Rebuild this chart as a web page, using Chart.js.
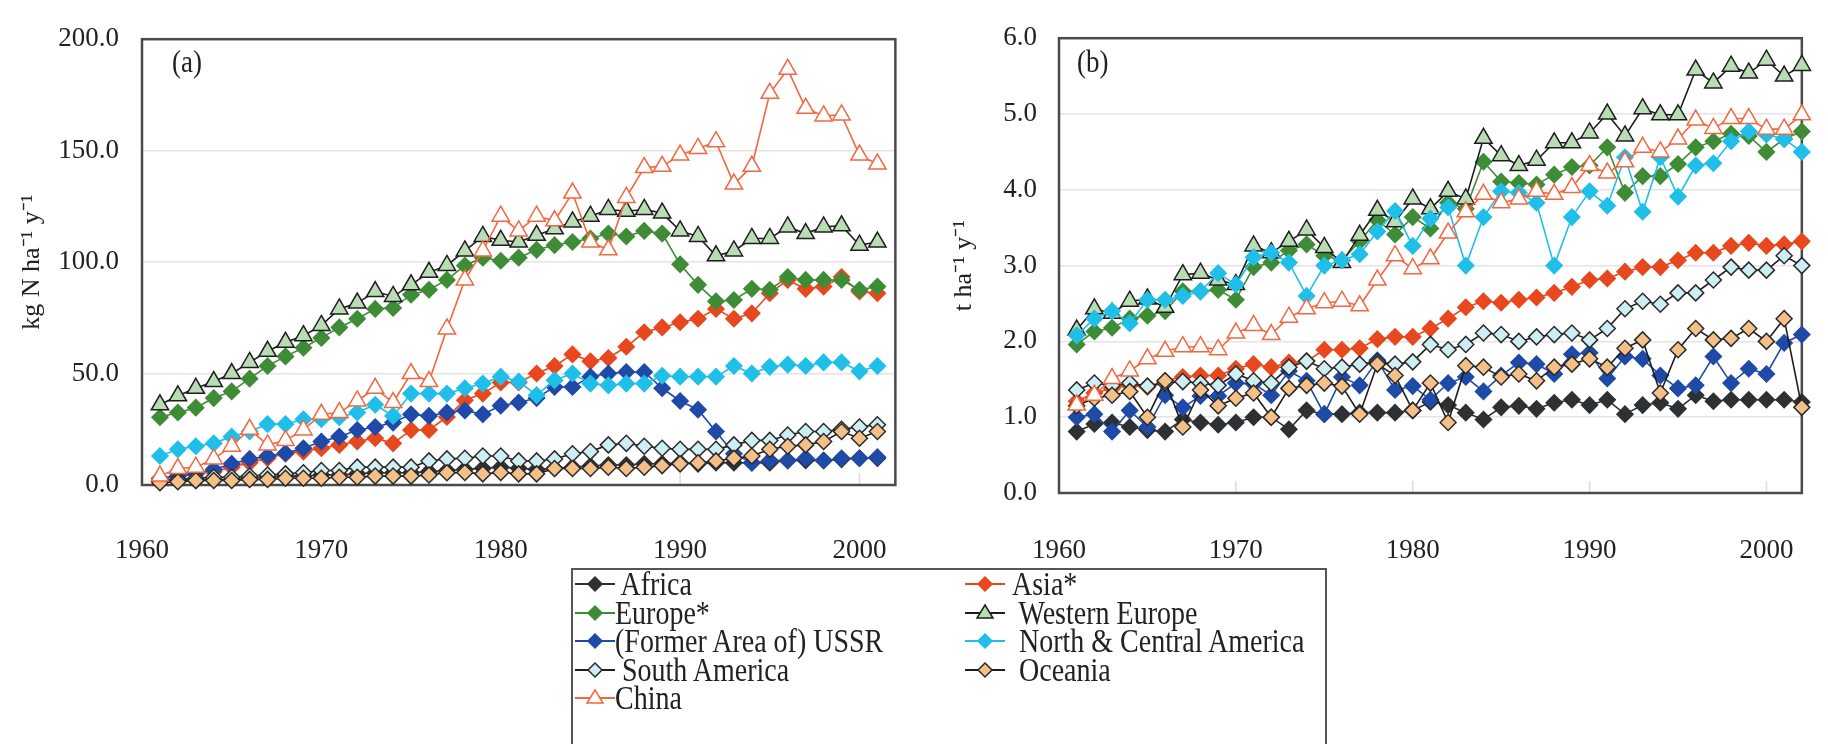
<!DOCTYPE html>
<html>
<head>
<meta charset="utf-8">
<script src="https://cdn.jsdelivr.net/npm/chart.js@4.4.0/dist/chart.umd.min.js"></script>
<style>
  html, body { margin: 0; padding: 0; background: #fff; overflow: hidden; }
  body { width: 1828px; height: 744px; position: relative; font-family: "Liberation Serif", "Times New Roman", serif; color: #222; }
  #boxA { position: absolute; left: 0; top: 0; }
  #boxB { position: absolute; left: 930px; top: 0; }
  .panel { position: absolute; font-size: 27px; line-height: 1; transform: scaleY(1.15); }
  #legend { position: absolute; left: 571px; top: 568px; width: 756px; height: 240px; border: 2px solid #555; box-sizing: border-box; }
  .item { position: absolute; display: flex; align-items: center; height: 28px; font-size: 28px; white-space: pre; }
  .item span { display: inline-block; line-height: 1; transform: scaleY(1.2); }
</style>
</head>
<body>
<canvas id="boxA" width="930" height="570"></canvas>
<canvas id="boxB" width="898" height="570"></canvas>
<div class="panel" style="left:172px; top:49px;">(a)</div>
<div class="panel" style="left:1077px; top:49px;">(b)</div>
<div id="legend"></div>

<script>
// Serien (Reihenfolge wie in der Legende)
const seriesNames = ["Africa", "Asia*", "Europe*", "Western Europe", "(Former Area of) USSR",
  "North & Central America", "South America", "Oceania", "China"];
const legendLabels = [" Africa", "Asia*", "Europe*", " Western Europe", "(Former Area of) USSR",
  " North & Central America", " South America", " Oceania", "China"];

// Jahre
const yearsN = [1961, 1962, 1963, 1964, 1965, 1966, 1967, 1968, 1969, 1970,
  1971, 1972, 1973, 1974, 1975, 1976, 1977, 1978, 1979, 1980,
  1981, 1982, 1983, 1984, 1985, 1986, 1987, 1988, 1989, 1990,
  1991, 1992, 1993, 1994, 1995, 1996, 1997, 1998, 1999, 2000, 2001];
const yearsY = [1961, 1962, 1963, 1964, 1965, 1966, 1967, 1968, 1969, 1970,
  1971, 1972, 1973, 1974, 1975, 1976, 1977, 1978, 1979, 1980,
  1981, 1982, 1983, 1984, 1985, 1986, 1987, 1988, 1989, 1990,
  1991, 1992, 1993, 1994, 1995, 1996, 1997, 1998, 1999, 2000, 2001, 2002];

// (a) Stickstoffduenger, kg N / ha / Jahr
const africaN = [1.5, 2, 2, 2.5, 2.5, 3, 3.5, 4, 4, 4.5, 4.5, 5, 5.5, 5.5, 5.5, 6, 6.5, 7, 7.5, 8,
  7.5, 7, 7.5, 8, 8.5, 9, 9, 9.5, 9.5, 10, 9.5, 10, 10, 10, 10, 11, 11, 11, 11.5, 12, 12];
const asiaN = [3, 4, 5, 6, 8, 10, 12, 14, 15, 16.5, 18, 19.5, 21, 18.7, 24.7, 24.7, 30.5, 38, 41, 46,
  46, 50, 53.4, 58.6, 55.5, 57, 62, 68.5, 70.7, 73, 74.6, 79, 74.6, 77, 86, 92, 88, 89, 93.3, 86.8, 86];
const europeN = [30.4, 32.5, 34.7, 39, 42, 47.7, 53.4, 57.7, 61.6, 66, 70.7, 74.6, 79, 79.4, 85.4, 87.6, 92, 98.5, 102, 100.6,
  102, 105.5, 107.6, 109, 110.6, 112.8, 111.5, 114, 112.8, 99, 89.8, 82.4, 83, 88, 87.6, 93.3, 92, 92, 92, 87.6, 89];
const westEuropeN = [36, 40, 43.4, 46.4, 50, 55, 60, 64, 67, 71.6, 79, 81.6, 86.8, 84.6, 89.8, 95.4, 98.5, 105, 111.5, 109.8,
  109, 112, 115, 118, 120.6, 123.6, 122.8, 123.6, 122, 114, 111.5, 102.8, 105, 110.6, 110.6, 115.8, 112.8, 115.8, 116.3, 107.6, 109];
const ussrN = [3, 4, 5, 7, 9.5, 11.7, 13, 14.3, 16.5, 19.5, 21.7, 24.7, 26, 28, 31.7, 31, 32.5, 33.4, 31.7, 35.6,
  37, 39, 44, 44, 48.6, 50, 50.7, 50.7, 43.4, 37.7, 33.8, 24, 14, 10, 11, 11, 12, 11, 12, 12, 12.5];
const ncAmericaN = [13, 16, 17.4, 18.7, 21.7, 24, 27.3, 27.3, 29.5, 29.5, 30.4, 32.5, 36, 31, 41, 41, 41, 43.4, 45.5, 48.6,
  46.4, 40.3, 47, 50, 45.5, 44.7, 45.5, 45.5, 49, 48.6, 48.6, 48.6, 53.4, 50, 53, 54, 53.4, 55, 55, 51, 53.4];
const sAmericaN = [2, 2.5, 3, 3.5, 3.5, 4, 4.5, 5, 5.5, 6.5, 6.5, 8, 8, 8, 8, 10.8, 11.7, 12, 13, 13,
  10.8, 10.8, 11.7, 14, 15, 18, 18.7, 17.4, 16.5, 16, 16, 16, 18, 20, 20, 22.4, 24, 24, 25, 26, 27];
const oceaniaN = [1, 1.5, 2, 2, 2, 2.5, 2.5, 3, 3, 3, 3.5, 3.5, 4, 4, 4, 4.5, 5.5, 5.6, 5, 5.6,
  5, 5, 7.4, 7.4, 7.4, 8, 7.4, 8, 8.7, 9.5, 10, 10.8, 12, 13, 16, 17.4, 18, 19.5, 24, 21, 24];
const chinaN = [4, 7.4, 8, 11.7, 17.4, 25, 18, 20, 24.7, 31.7, 32.5, 37.7, 43.4, 37, 50, 46.4, 70, 92, 105, 120.6,
  114, 120.6, 118.5, 131, 109, 105.5, 129, 142.4, 143, 148, 151, 154, 135, 143, 175.7, 186.5, 169, 165.6, 166, 148, 144];

// (b) Getreideertrag, t / ha / Jahr
const africaY = [0.81, 0.91, 0.93, 0.87, 0.83, 0.81, 0.97, 0.93, 0.9, 0.93, 1.0, 1.0, 0.84, 1.09, 1.04, 1.04, 1.06, 1.06, 1.06, 1.09,
  1.2, 1.16, 1.06, 0.97, 1.13, 1.15, 1.11, 1.19, 1.23, 1.16, 1.23, 1.04, 1.16, 1.19, 1.11, 1.29, 1.21, 1.23, 1.23, 1.23, 1.23, 1.2];
const asiaY = [1.21, 1.32, 1.38, 1.42, 1.4, 1.48, 1.53, 1.55, 1.55, 1.64, 1.7, 1.66, 1.72, 1.74, 1.89, 1.89, 1.91, 2.03, 2.06, 2.06,
  2.17, 2.3, 2.45, 2.53, 2.51, 2.55, 2.58, 2.64, 2.72, 2.81, 2.83, 2.92, 2.98, 2.98, 3.07, 3.17, 3.17, 3.26, 3.3, 3.26, 3.28, 3.32];
const europeY = [1.96, 2.13, 2.18, 2.3, 2.34, 2.4, 2.66, 2.66, 2.68, 2.55, 2.98, 3.04, 3.2, 3.28, 3.13, 3.07, 3.32, 3.6, 3.41, 3.64,
  3.49, 3.83, 3.75, 4.37, 4.11, 4.09, 4.07, 4.2, 4.3, 4.32, 4.56, 3.96, 4.18, 4.18, 4.34, 4.56, 4.64, 4.74, 4.71, 4.5, 4.67, 4.77];
const westEuropeY = [2.15, 2.43, 2.37, 2.53, 2.56, 2.45, 2.88, 2.9, 2.81, 2.75, 3.26, 3.17, 3.32, 3.47, 3.24, 3.04, 3.4, 3.73, 3.58, 3.88,
  3.75, 3.98, 3.88, 4.68, 4.45, 4.32, 4.39, 4.62, 4.62, 4.75, 5.0, 4.71, 5.07, 4.99, 4.99, 5.58, 5.41, 5.63, 5.54, 5.71, 5.5, 5.64];
const ussrY = [1.0, 1.04, 0.81, 1.09, 0.87, 1.29, 1.13, 1.28, 1.28, 1.45, 1.44, 1.29, 1.61, 1.48, 1.04, 1.53, 1.42, 1.75, 1.36, 1.41,
  1.23, 1.45, 1.53, 1.34, 1.55, 1.72, 1.7, 1.57, 1.83, 1.85, 1.51, 1.8, 1.77, 1.55, 1.38, 1.42, 1.8, 1.45, 1.64, 1.57, 1.98, 2.09];
const ncAmericaY = [2.08, 2.3, 2.4, 2.24, 2.55, 2.55, 2.6, 2.66, 2.9, 2.75, 3.11, 3.17, 3.04, 2.6, 3.0, 3.07, 3.15, 3.45, 3.72, 3.26,
  3.62, 3.77, 3.0, 3.64, 3.98, 3.96, 3.83, 3.0, 3.64, 3.98, 3.79, 4.43, 3.71, 4.43, 3.91, 4.32, 4.35, 4.64, 4.77, 4.73, 4.67, 4.5];
const sAmericaY = [1.36, 1.45, 1.42, 1.45, 1.41, 1.45, 1.47, 1.45, 1.42, 1.57, 1.48, 1.45, 1.66, 1.74, 1.64, 1.66, 1.7, 1.73, 1.7, 1.73,
  1.96, 1.89, 1.96, 2.11, 2.09, 2.0, 2.06, 2.09, 2.11, 2.02, 2.17, 2.43, 2.53, 2.49, 2.64, 2.64, 2.81, 2.98, 2.94, 2.94, 3.13, 3.0];
const oceaniaY = [1.15, 1.25, 1.29, 1.34, 1.0, 1.48, 0.87, 1.36, 1.15, 1.25, 1.32, 1.0, 1.38, 1.42, 1.45, 1.41, 1.04, 1.7, 1.55, 1.09,
  1.45, 0.93, 1.68, 1.66, 1.53, 1.57, 1.48, 1.66, 1.7, 1.77, 1.66, 1.91, 2.02, 1.32, 1.89, 2.17, 2.02, 2.04, 2.17, 2.0, 2.3, 1.13];
const chinaY = [1.16, 1.29, 1.51, 1.61, 1.77, 1.87, 1.93, 1.93, 1.89, 2.11, 2.21, 2.09, 2.32, 2.43, 2.51, 2.53, 2.47, 2.81, 3.13, 2.96,
  3.09, 3.43, 3.71, 3.94, 3.83, 3.88, 3.98, 3.94, 4.03, 4.32, 4.22, 4.37, 4.56, 4.5, 4.67, 4.92, 4.81, 4.94, 4.94, 4.8, 4.8, 4.99];

// Achsen
const xTicks = [1960, 1970, 1980, 1990, 2000];
const yTicksN = [0, 50, 100, 150, 200];
const yTicksY = [0, 1, 2, 3, 4, 5, 6];

// Stil pro Serie
const lineColors = ["#2e3134", "#e8481e", "#3f8c37", "#1e1e1e", "#1f4aa8", "#20bfea", "#1e1e1e", "#1e1e1e", "#f2673f"];
const fillColors = ["#2e3134", "#e8481e", "#3f8c37", "#b9dcb4", "#1f4aa8", "#20bfea", "#cdeef2", "#f5bf88", "#ffffff"];
const edgeColors = ["#2e3134", "#e8481e", "#3f8c37", "#1e1e1e", "#1f4aa8", "#20bfea", "#2a2a2a", "#2a2a2a", "#f2673f"];
const shapes = ["rectRot", "rectRot", "rectRot", "triangle", "rectRot", "rectRot", "rectRot", "rectRot", "triangle"];

const FONT = '"Liberation Serif", "Times New Roman", serif';
Chart.defaults.font.family = FONT;
Chart.defaults.color = "#222";

// Rahmen um die Zeichenflaeche + kurze Striche an den Jahren
const framePlugin = {
  id: "frame",
  beforeDatasetsDraw(chart) {
    const { ctx, chartArea: a } = chart;
    const xs = chart.scales.x;
    ctx.save();
    ctx.strokeStyle = "#dcdcdc";
    ctx.lineWidth = 1.5;
    xTicks.slice(1).forEach((t) => {
      const px = xs.getPixelForValue(t);
      ctx.beginPath();
      ctx.moveTo(px, a.bottom);
      ctx.lineTo(px, a.bottom - 12);
      ctx.stroke();
    });
    ctx.strokeStyle = "#4a4a4a";
    ctx.lineWidth = 2.5;
    ctx.strokeRect(a.left, a.top, a.right - a.left, a.bottom - a.top);
    ctx.restore();
  },
};

function buildChart(canvasId, years, values, cfg) {
  const datasets = values.map((vals, i) => ({
    label: seriesNames[i],
    data: vals.map((v, k) => ({ x: years[k], y: v })),
    borderColor: lineColors[i],
    backgroundColor: fillColors[i],
    pointBackgroundColor: fillColors[i],
    pointBorderColor: edgeColors[i],
    pointBorderWidth: 1.5,
    pointStyle: shapes[i],
    pointRadius: shapes[i] === "triangle" ? 10 : 8,
    borderWidth: 1.6,
    tension: 0,
    clip: false,
    order: values.length - i,
  }));

  return new Chart(document.getElementById(canvasId), {
    type: "line",
    data: { datasets },
    options: {
      responsive: false,
      animation: false,
      events: [],
      layout: { padding: { left: 0, top: 24, right: cfg.padRight, bottom: 0 } },
      plugins: { legend: { display: false }, tooltip: { enabled: false } },
      scales: {
        x: {
          type: "linear",
          min: 1960,
          max: 2002,
          afterFit: (s) => { s.height = cfg.xHeight; },
          afterBuildTicks: (s) => { s.ticks = xTicks.map((v) => ({ value: v })); },
          grid: { display: false },
          border: { display: false },
          ticks: { padding: cfg.xPad, maxRotation: 0, font: { size: 27 }, color: "#222", callback: (v) => String(v) },
        },
        y: {
          min: cfg.yTicks[0],
          max: cfg.yTicks[cfg.yTicks.length - 1],
          afterFit: (s) => { s.width = cfg.yWidth; },
          afterBuildTicks: (s) => { s.ticks = cfg.yTicks.map((v) => ({ value: v })); },
          grid: { color: "#e4e4e4", lineWidth: 1.5, drawTicks: false },
          border: { display: false },
          ticks: { padding: cfg.yPad, font: { size: 27 }, color: "#222", callback: (v) => v.toFixed(1) },
          title: { display: true, text: cfg.yTitle, font: { size: 26 }, color: "#222", padding: { top: cfg.titlePad, bottom: 0 } },
        },
      },
    },
    plugins: [framePlugin],
  });
}

buildChart("boxA", yearsN,
  [africaN, asiaN, europeN, westEuropeN, ussrN, ncAmericaN, sAmericaN, oceaniaN, chinaN],
  { padRight: 32, xHeight: 85, xPad: 42, yWidth: 142, yPad: 23, yTicks: yTicksN,
    yTitle: "kg N ha\u207B\u00B9 y\u207B\u00B9", titlePad: 17 });

buildChart("boxB", yearsY,
  [africaY, asiaY, europeY, westEuropeY, ussrY, ncAmericaY, sAmericaY, oceaniaY, chinaY],
  { padRight: 3, xHeight: 77, xPad: 34, yWidth: 129, yPad: 22, yTicks: yTicksY,
    yTitle: "t ha\u207B\u00B9 y\u207B\u00B9", titlePad: 19 });

// Legende (gemeinsam fuer beide Diagramme)
function markerSvg(i) {
  const svgNS = "http://www.w3.org/2000/svg";
  const svg = document.createElementNS(svgNS, "svg");
  svg.setAttribute("width", "40");
  svg.setAttribute("height", "24");
  const line = document.createElementNS(svgNS, "line");
  line.setAttribute("x1", "0"); line.setAttribute("y1", "12");
  line.setAttribute("x2", "40"); line.setAttribute("y2", "12");
  line.setAttribute("stroke", lineColors[i]);
  line.setAttribute("stroke-width", "2");
  svg.appendChild(line);
  const mark = document.createElementNS(svgNS, "polygon");
  mark.setAttribute("points", shapes[i] === "triangle"
    ? "20,4 28,17 12,17"
    : "20,5 27,12 20,19 13,12");
  mark.setAttribute("fill", fillColors[i]);
  mark.setAttribute("stroke", edgeColors[i]);
  mark.setAttribute("stroke-width", "1.5");
  svg.appendChild(mark);
  return svg;
}

const legend = document.getElementById("legend");
const rowTops = [0, 29, 57, 86, 114];
const colLefts = [2, 392];
const colGaps = [0, 7];
legendLabels.forEach((name, i) => {
  const item = document.createElement("div");
  item.className = "item";
  item.style.left = colLefts[i % 2] + "px";
  item.style.top = rowTops[Math.floor(i / 2)] + "px";
  const svg = markerSvg(i);
  svg.style.marginRight = colGaps[i % 2] + "px";
  item.appendChild(svg);
  const txt = document.createElement("span");
  txt.textContent = name;
  item.appendChild(txt);
  legend.appendChild(item);
});
</script>
</body>
</html>
